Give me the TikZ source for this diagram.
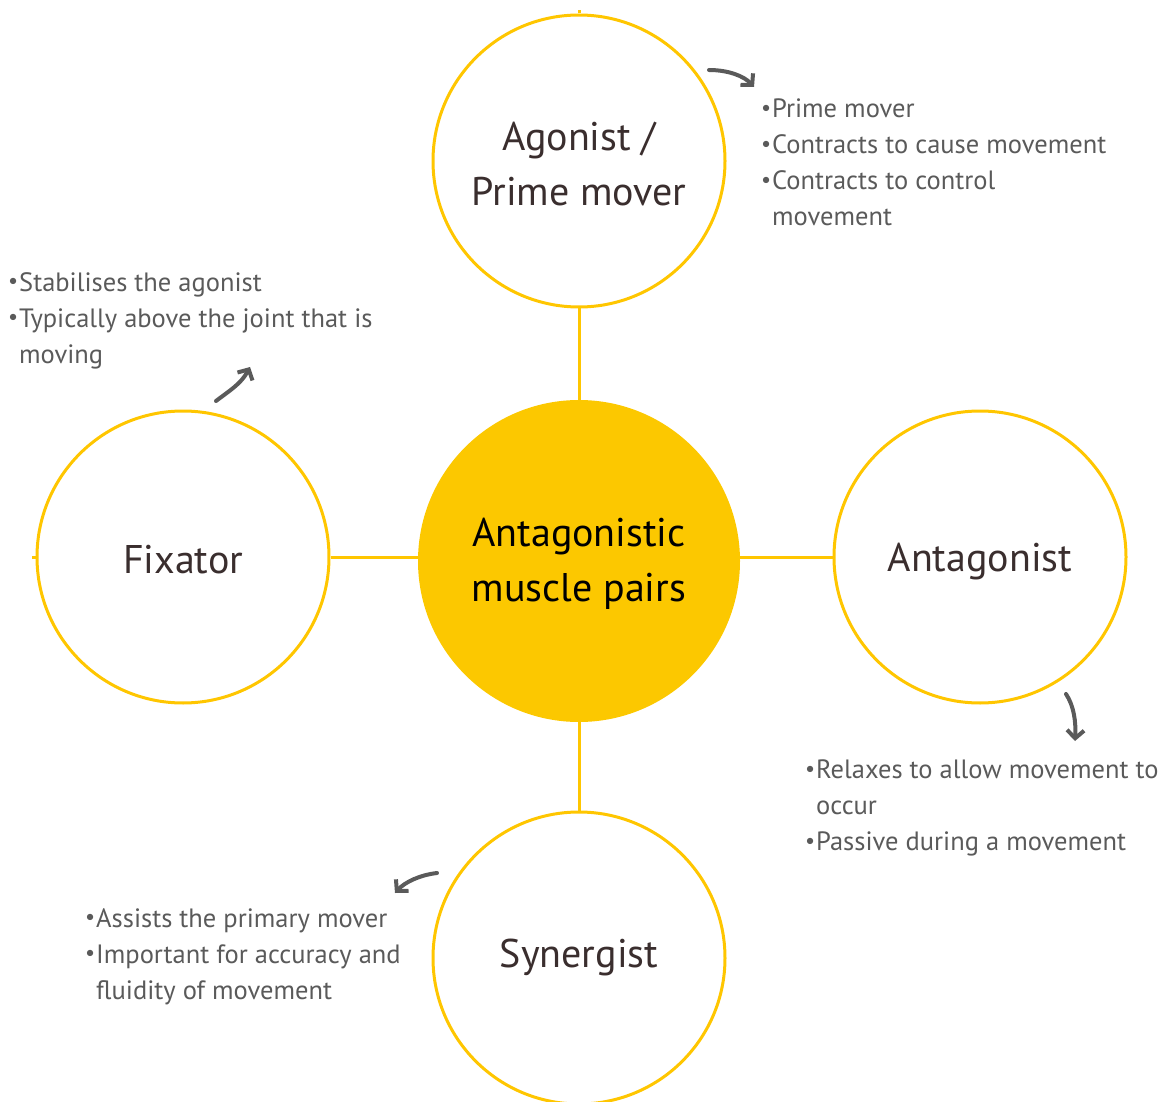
\documentclass[tikz,border=0pt]{standalone}
\usepackage{fontspec}
\setmainfont{PT Sans}
\usetikzlibrary{arrows.meta}
\definecolor{ring}{HTML}{FFC600}
\definecolor{core}{HTML}{FCC800}
\definecolor{title}{HTML}{3A2E2E}
\definecolor{note}{HTML}{5A5A5A}
\tikzset{
  ring/.style={circle, draw=ring, line width=3pt, minimum size=292pt, inner sep=0pt, fill=white},
  corering/.style={circle, fill=core, minimum size=322pt, inner sep=0pt},
  caption/.style={align=center, inner sep=0pt, font=\fontsize{40}{55}\selectfont, text=title},
  link/.style={draw=ring, line width=3pt},
  pointer/.style={draw=note, line width=4pt, line cap=round, -{Straight Barb[length=8pt,width=17pt,line width=4pt]}},
  notes/.style={anchor=north west, inner sep=0pt, text=note, font=\fontsize{26.5}{36}\selectfont, align=left}
}
\newcommand{\bl}{\makebox[10pt][l]{\raisebox{0.2em}{\scalebox{0.65}{$\bullet$}}}}
\begin{document}
\begin{tikzpicture}[x=1pt,y=-1pt]
\useasboundingbox (0,0) rectangle (1163,1102);
\node[corering] (core) at (579,561) {};
\node[ring] (ago) at (579,161) {};
\node[ring] (fix) at (183,557) {};
\node[ring] (ant) at (980,557) {};
\node[ring] (syn) at (579,958) {};
\node[caption, text=black] (tcore) at (core.center) [yshift=-3pt] {Antagonistic\\muscle pairs};
\node[caption] (tago) at (ago.center) [yshift=-3pt] {Agonist /\\Prime mover};
\node[caption] (tfix) at (fix.center) [yshift=-3pt] {Fixator};
\node[caption] (tant) at (ant.center) [yshift=-5pt] {Antagonist};
\node[caption] (tsyn) at (syn.center) [yshift=1pt] {Synergist};
\coordinate (ttop) at (579,10);
\coordinate (tleft) at (32,557);
\draw[link] (ago) -- (core);
\draw[link] (fix.east) -- (core.west |- fix.east);
\draw[link] (core.east |- ant.west) -- (ant.west);
\draw[link] (core) -- (syn);
\draw[link] (ago.north) -- (ttop);
\draw[link] (fix.west) -- (tleft);

\node[notes] (n1) at (762,99) {\bl Prime mover\\\bl Contracts to cause movement\\\bl Contracts to control\\\hspace*{10pt}movement};
\node[notes] (n2) at (9,272) {\bl Stabilises the agonist\\\bl Typically above the joint that is\\\hspace*{10pt}moving};
\node[notes] (n3) at (806,760) {\bl Relaxes to allow movement to\\\hspace*{10pt}occur\\\bl Passive during a movement};
\node[notes] (n4) at (86,908) {\bl Assists the primary mover\\\bl Important for accuracy and\\\hspace*{10pt}fluidity of movement};

\coordinate (a1s) at (709,70); \coordinate (a1e) at (754,87);
\coordinate (a2s) at (216,401); \coordinate (a2e) at (250,367);
\coordinate (a3s) at (1066,694); \coordinate (a3e) at (1075,741);
\coordinate (a4s) at (437,873); \coordinate (a4e) at (395,893);
\draw[pointer] (a1s) .. controls (728,70) and (744,76) .. (a1e);
\draw[pointer] (a2s) .. controls (229,391) and (241,384) .. (a2e);
\draw[pointer] (a3s) .. controls (1074,706) and (1076,722) .. (a3e);
\draw[pointer] (a4s) .. controls (420,875) and (405,882) .. (a4e);
\end{tikzpicture}
\end{document}
